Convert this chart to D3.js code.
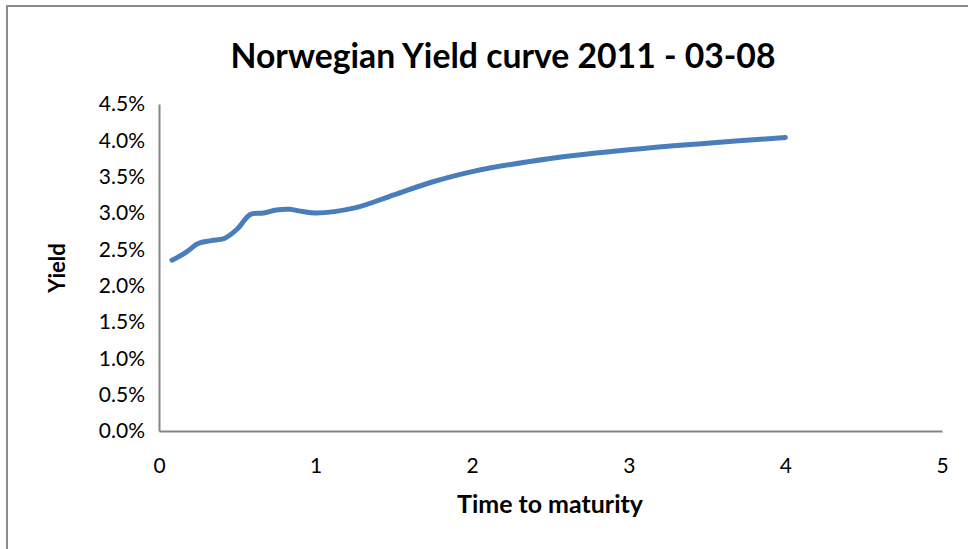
<!DOCTYPE html>
<html>
<head>
<meta charset="utf-8">
<script src="https://cdn.jsdelivr.net/npm/d3@7/dist/d3.min.js"></script>
<style>
  html, body { margin: 0; padding: 0; background: #fff; }
  svg { display: block; }
  text { font-family: Lato, "Open Sans", "Liberation Sans", sans-serif; fill: #000; }
</style>
</head>
<body>
<svg id="chart" width="968" height="549"></svg>
<script>
// Maturity in years and the matching yield in percent
const maturities = [0.083, 0.167, 0.25, 0.333, 0.417, 0.5, 0.583, 0.667, 0.75, 0.833, 0.917, 1.0, 1.25, 1.5, 1.75, 2.0, 2.5, 3.0, 3.5, 4.0];
const yields     = [2.35, 2.45, 2.58, 2.62, 2.65, 2.78, 2.98, 3.00, 3.04, 3.05, 3.02, 3.00, 3.07, 3.25, 3.43, 3.57, 3.75, 3.87, 3.96, 4.04];

const xTicks = [0, 1, 2, 3, 4, 5];
const yTicks = [0, 0.5, 1, 1.5, 2, 2.5, 3, 3.5, 4, 4.5];

const titleText = "Norwegian Yield curve 2011 - 03-08";
const xTitle = "Time to maturity";
const yTitle = "Yield";

const svg = d3.select("#chart");
const W = 968, H = 549;
const plot = { left: 159, right: 942, top: 104, bottom: 431 };

// Outer chart frame (extends past the right and bottom edges)
svg.append("rect")
  .attr("x", 7).attr("y", 6)
  .attr("width", W + 20).attr("height", H + 20)
  .attr("fill", "#fff")
  .attr("stroke", "#8c8c8c").attr("stroke-width", 2);

const x = d3.scaleLinear().domain([0, 5]).range([plot.left, plot.right]);
const y = d3.scaleLinear().domain([0, 4.5]).range([plot.bottom, plot.top]);

// Y axis with percentage labels
const yAxis = d3.axisLeft(y).tickValues(yTicks).tickSize(0).tickPadding(14)
  .tickFormat(d => d.toFixed(1) + "%");
const gy = svg.append("g").attr("transform", `translate(${plot.left},0)`).call(yAxis);
gy.attr("font-size", 21).attr("font-family", "Lato, sans-serif");
gy.select(".domain").attr("stroke", "#868686").attr("stroke-width", 2);
gy.selectAll("text").attr("font-size", 21).attr("fill", "#000");

// X axis
const xAxis = d3.axisBottom(x).tickValues(xTicks).tickSize(0).tickPadding(27)
  .tickFormat(d3.format("d"));
const gx = svg.append("g").attr("transform", `translate(0,${plot.bottom})`).call(xAxis);
gx.attr("font-size", 21).attr("font-family", "Lato, sans-serif");
gx.select(".domain").attr("stroke", "#868686").attr("stroke-width", 2);
gx.selectAll("text").attr("font-size", 21).attr("fill", "#000");

// Yield curve
const pts = maturities.map((m, i) => [m, yields[i]]);
const line = d3.line()
  .x(d => x(d[0])).y(d => y(d[1]))
  .curve(d3.curveCatmullRom.alpha(0.5));
svg.append("path")
  .datum(pts)
  .attr("d", line)
  .attr("fill", "none")
  .attr("stroke", "#4a7ebb")
  .attr("stroke-width", 5)
  .attr("stroke-linecap", "round")
  .attr("stroke-linejoin", "round");

// Titles
const t = svg.append("text")
  .attr("x", 503).attr("y", 68)
  .attr("text-anchor", "middle")
  .attr("font-weight", "bold")
  .attr("font-size", 28)
  .text(titleText);
// fit title to its intended width
const tw = t.node().getComputedTextLength();
t.attr("font-size", 28 * 545 / tw);

const xt = svg.append("text")
  .attr("x", 550).attr("y", 513)
  .attr("text-anchor", "middle")
  .attr("font-weight", "bold")
  .attr("font-size", 19)
  .text(xTitle);
const xtw = xt.node().getComputedTextLength();
xt.attr("font-size", 19 * 186 / xtw);

svg.append("text")
  .attr("transform", "translate(65,268) rotate(-90)")
  .attr("text-anchor", "middle")
  .attr("font-weight", "bold")
  .attr("font-size", 22)
  .text(yTitle);
</script>
</body>
</html>
